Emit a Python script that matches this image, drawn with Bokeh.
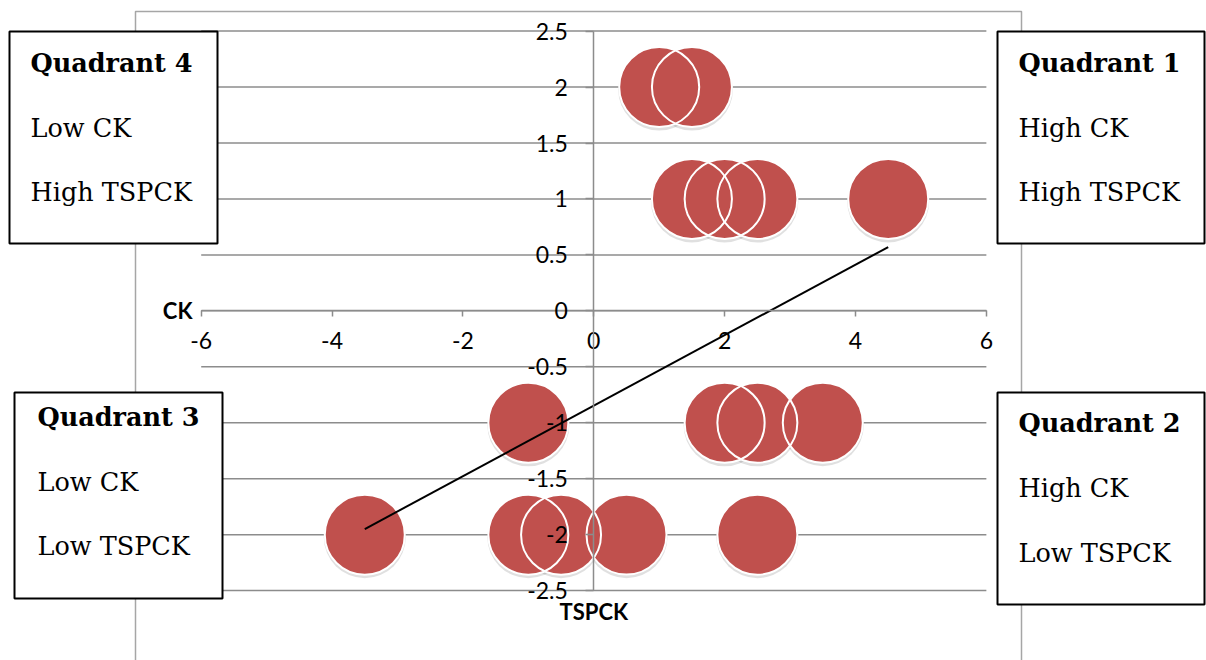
from bokeh.plotting import figure
from bokeh.models import Range1d, LinearAxis, FixedTicker
from bokeh.core.properties import value
from bokeh.embed import file_html
from bokeh.resources import INLINE

# ---------------- data ----------------
tspck = [1, 1.5, 1.5, 2, 2.5, 4.5, -1, 2, 2.5, 3.5, -3.5, -1, -0.5, 0.5, 2.5]
ck = [2, 2, 1, 1, 1, 1, -1, -1, -1, -1, -2, -2, -2, -2, -2]

trend_x = [-3.5, 4.5]
trend_y = [-1.95, 0.57]

x_ticks = [-6, -4, -2, 0, 2, 4, 6]
x_tick_labels = ["-6", "-4", "-2", "0", "2", "4", "6"]
y_ticks = [-2.5, -2, -1.5, -1, -0.5, 0, 0.5, 1, 1.5, 2, 2.5]
y_tick_labels = ["-2.5", "-2", "-1.5", "-1", "-0.5", "0", "0.5", "1", "1.5", "2", "2.5"]

x_title = "TSPCK"
y_title = "CK"

quad_titles = ["Quadrant 4", "Quadrant 1", "Quadrant 3", "Quadrant 2"]
quad_line1 = ["Low CK", "High CK", "Low CK", "High CK"]
quad_line2 = ["High TSPCK", "High TSPCK", "Low TSPCK", "Low TSPCK"]

# ---------------- layout (page pixels -> data) ----------------
W, H = 1206, 660
SX = 65.43   # px per x unit
SY = 111.9   # px per y unit
XS = -6 - 200.7 / SX
XE = XS + W / SX
YE = 2.5 + 30.6 / SY
YS = YE - H / SY


def px_x(X):
    return XS + X / SX


def px_y(Y):
    return YE - Y / SY


p = figure(width=W, height=H, output_backend="svg", toolbar_location=None,
           x_range=Range1d(XS, XE), y_range=Range1d(YS, YE),
           x_axis_location=None, y_axis_location=None, min_border=0,
           outline_line_color=None, background_fill_color="white",
           border_fill_color="white")
p.grid.visible = False

GRAY = "#8c8c8c"
LABEL_FONT = value("Lato")

# horizontal gridlines between x = -6 and 6
p.segment(x0=[x_ticks[0]] * len(y_ticks), x1=[x_ticks[-1]] * len(y_ticks),
          y0=y_ticks, y1=y_ticks, line_color=GRAY, line_width=1.5)

# chart area border
p.line(x=[px_x(135), px_x(135), px_x(1021), px_x(1021)],
       y=[px_y(720), px_y(11), px_y(11), px_y(720)],
       line_color="#a6a6a6", line_width=1.5)

# axes crossing at origin
xaxis = LinearAxis(fixed_location=0, bounds=(-6, 6), ticker=FixedTicker(ticks=x_ticks),
                   major_label_overrides={t: l for t, l in zip(x_ticks, x_tick_labels)},
                   axis_line_color=GRAY, axis_line_width=1.5,
                   major_tick_line_color=GRAY, major_tick_line_width=1.5,
                   major_tick_in=0, major_tick_out=6, minor_tick_line_color=None,
                   major_label_standoff=15, major_label_text_font="Lato",
                   major_label_text_font_size="23px", major_label_text_color="black")
p.add_layout(xaxis, "below")

yaxis = LinearAxis(fixed_location=0, bounds=(-2.5, 2.5), ticker=FixedTicker(ticks=y_ticks),
                   major_label_overrides={t: l for t, l in zip(y_ticks, y_tick_labels)},
                   axis_line_color=GRAY, axis_line_width=1.5,
                   major_tick_line_color=GRAY, major_tick_line_width=1.5,
                   major_tick_in=0, major_tick_out=8, minor_tick_line_color=None,
                   major_label_standoff=18, major_label_text_font="Lato",
                   major_label_text_font_size="23px", major_label_text_color="black")
p.add_layout(yaxis, "left")

# axis titles
p.text(x=[px_x(192)], y=[0], text=[y_title], text_font=LABEL_FONT, text_font_size="22px",
       text_font_style="bold", text_align="right", text_baseline="middle", text_color="black")
p.text(x=[0], y=[px_y(611)], text=[x_title], text_font=LABEL_FONT, text_font_size="22px",
       text_font_style="bold", text_align="center", text_baseline="middle", text_color="black")

# markers: shadow, fills, then outlines on top
shadow_y = [v - 2.5 / SY for v in ck]
p.scatter(x=tspck, y=shadow_y, size=82, marker="circle", fill_color="black",
          fill_alpha=0.12, line_color=None)
p.scatter(x=tspck, y=ck, size=80, marker="circle", fill_color="#C0504D",
          line_color=None)
p.scatter(x=tspck, y=ck, size=80, marker="circle", fill_color=None,
          line_color="white", line_width=2)

# trend line
p.line(x=trend_x, y=trend_y, line_color="black", line_width=2)

# quadrant boxes (page pixel boxes: left, top, right, bottom)
boxes = [(9, 31, 217, 243), (997, 31, 1204, 243), (14, 392, 222, 598), (997, 392, 1204, 604)]
text_left = [30, 1018, 37, 1018]
baselines = [(62.5, 127.5, 191.5), (62.5, 127.5, 191.5), (416, 481, 545), (422, 487, 552)]

p.quad(left=[px_x(b[0]) for b in boxes], right=[px_x(b[2]) for b in boxes],
       top=[px_y(b[1]) for b in boxes], bottom=[px_y(b[3]) for b in boxes],
       fill_color="white", line_color="black", line_width=2)

SERIF = value("DejaVu Serif")
p.text(x=[px_x(t) for t in text_left], y=[px_y(b[0]) for b in baselines], text=quad_titles,
       text_font=SERIF, text_font_size="25.5px", text_font_style="bold",
       text_align="left", text_baseline="alphabetic", text_color="black")
p.text(x=[px_x(t) for t in text_left], y=[px_y(b[1]) for b in baselines], text=quad_line1,
       text_font=SERIF, text_font_size="25.5px",
       text_align="left", text_baseline="alphabetic", text_color="black")
p.text(x=[px_x(t) for t in text_left], y=[px_y(b[2]) for b in baselines], text=quad_line2,
       text_font=SERIF, text_font_size="25.5px",
       text_align="left", text_baseline="alphabetic", text_color="black")

open("out.html", "w").write(file_html(p, INLINE))
